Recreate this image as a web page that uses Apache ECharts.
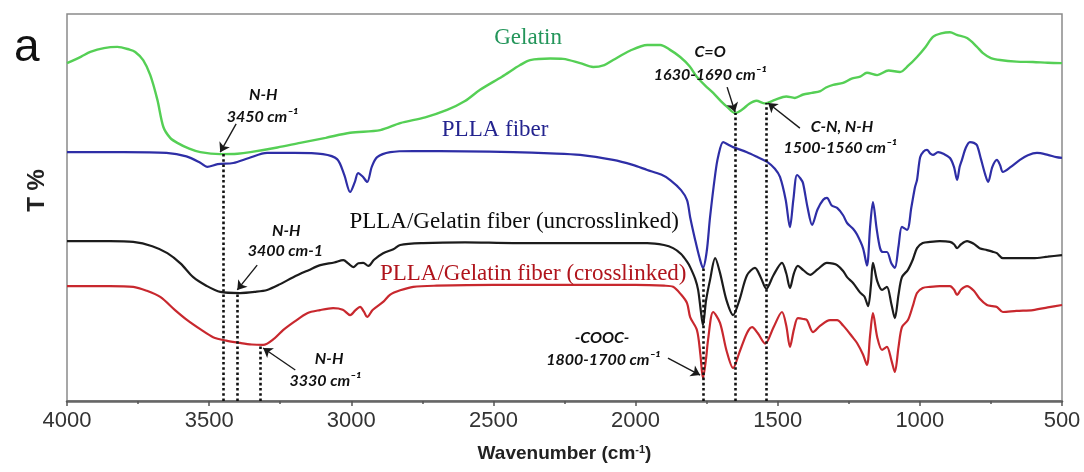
<!DOCTYPE html>
<html><head><meta charset="utf-8">
<script src="https://cdn.jsdelivr.net/npm/echarts/dist/echarts.min.js"></script>
<style>html,body{margin:0;padding:0;background:#fff}#c{width:1084px;height:472px}</style>
</head><body><div id="c"></div><script>
// [wavenumber (cm-1), transmittance (arbitrary %, offset per trace)]
const gelatin = [[4000,87.3],[3950,89.0],[3918,90.2],[3870,91.2],[3823,91.5],[3780,90.8],[3760,90.2],[3732,88.1],[3707,84.2],[3682,77.8],[3661,70.8],[3637,68.0],[3612,66.7],[3570,65.2],[3531,64.3],[3461,63.8],[3400,63.9],[3355,64.3],[3260,65.5],[3180,66.7],[3090,68.0],[3004,69.3],[2898,70.0],[2828,71.8],[2740,73.3],[2663,75.2],[2600,77.5],[2547,80.4],[2470,83.8],[2406,86.8],[2371,88.1],[2300,88.5],[2255,88.4],[2195,87.3],[2149,86.3],[2110,86.8],[2079,88.1],[2020,90.5],[1959,92.0],[1913,92.0],[1880,90.8],[1843,88.9],[1810,86.5],[1784,83.7],[1755,81.5],[1727,79.6],[1700,77.5],[1678,76.0],[1650,74.4],[1625,75.3],[1600,76.8],[1575,77.6],[1545,76.9],[1510,77.8],[1470,78.7],[1440,78.3],[1410,79.2],[1380,79.6],[1350,80.1],[1330,81.0],[1305,81.7],[1270,82.2],[1240,83.3],[1210,83.8],[1186,84.8],[1150,84.2],[1110,85.4],[1070,85.0],[1040,86.7],[1010,88.9],[980,91.5],[954,94.1],[925,95.0],[894,95.3],[870,94.6],[834,93.8],[800,91.6],[778,89.9],[750,88.6],[718,88.1],[660,87.7],[602,87.6],[550,87.4],[500,87.3]];
const pllaFiber = [[4000,64.3],[3800,64.3],[3650,64.1],[3580,63.2],[3530,61.5],[3507,60.5],[3470,61.2],[3415,61.5],[3360,62.8],[3296,64.1],[3200,64.1],[3100,63.8],[3050,62.5],[3025,58.5],[3004,54.0],[2988,56.5],[2976,58.9],[2960,58.0],[2944,56.6],[2928,60.5],[2909,63.0],[2863,64.3],[2782,64.6],[2600,64.5],[2431,64.3],[2300,64.0],[2195,63.6],[2079,62.3],[2010,61.0],[1959,59.7],[1910,58.5],[1878,57.1],[1840,54.5],[1819,51.9],[1808,47.5],[1790,41.5],[1775,37.0],[1763,34.4],[1750,38.5],[1738,47.5],[1720,58.5],[1710,63.0],[1692,66.9],[1675,66.3],[1657,65.6],[1608,64.3],[1570,63.0],[1537,61.8],[1510,60.0],[1492,57.9],[1472,52.0],[1457,44.9],[1445,52.0],[1432,58.4],[1420,57.5],[1411,56.3],[1395,50.0],[1379,45.5],[1360,49.5],[1340,52.0],[1327,52.5],[1310,50.5],[1291,49.9],[1270,48.0],[1256,46.0],[1235,44.5],[1221,43.0],[1200,39.5],[1186,35.0],[1175,45.0],[1165,51.4],[1152,44.5],[1140,39.5],[1130,38.5],[1116,38.5],[1100,35.5],[1088,34.4],[1075,40.0],[1063,45.0],[1045,44.2],[1030,50.0],[1017,55.3],[1010,57.1],[999,63.0],[987,64.5],[975,64.9],[964,64.0],[954,63.6],[936,64.3],[915,63.8],[894,62.8],[880,60.5],[869,57.1],[860,60.5],[852,62.3],[838,65.5],[824,66.9],[810,66.7],[799,66.1],[785,62.5],[770,58.5],[760,56.6],[745,60.5],[729,62.3],[718,61.0],[708,59.2],[680,60.5],[648,62.3],[620,63.5],[588,64.1],[550,63.6],[520,63.0],[500,62.8]];
const uncrosslinked = [[4000,41.3],[3850,41.3],[3767,41.1],[3700,40.0],[3647,38.2],[3600,35.5],[3556,32.0],[3510,29.8],[3461,28.2],[3391,27.9],[3340,28.2],[3296,28.7],[3250,30.2],[3204,32.0],[3150,33.8],[3109,35.1],[3060,35.8],[3028,36.4],[3010,35.5],[2993,34.6],[2975,35.6],[2958,35.7],[2940,34.9],[2920,36.5],[2888,38.2],[2852,39.2],[2828,40.3],[2747,40.8],[2600,41.0],[2431,40.8],[2200,40.8],[1959,40.8],[1900,40.3],[1868,39.5],[1840,38.0],[1819,36.0],[1808,34.6],[1790,31.5],[1780,28.7],[1770,23.0],[1763,19.6],[1752,26.0],[1738,31.3],[1720,36.9],[1703,33.1],[1680,26.0],[1657,22.2],[1635,26.0],[1608,32.5],[1580,34.4],[1560,32.0],[1540,29.0],[1515,32.5],[1485,35.7],[1470,33.0],[1457,29.2],[1443,33.0],[1429,34.9],[1410,33.8],[1386,32.6],[1360,34.0],[1327,35.7],[1305,35.5],[1291,35.1],[1270,33.6],[1256,32.0],[1235,30.5],[1210,28.0],[1195,27.0],[1182,24.5],[1172,30.0],[1165,35.7],[1150,31.0],[1133,28.7],[1116,29.5],[1100,25.0],[1088,21.4],[1075,27.5],[1063,32.0],[1042,33.9],[1025,36.5],[1010,39.5],[990,40.8],[964,41.1],[930,41.3],[894,41.1],[880,40.5],[869,39.5],[855,40.5],[834,41.3],[810,40.6],[790,39.5],[764,39.0],[745,38.6],[729,38.2],[708,36.9],[660,36.9],[602,36.9],[550,37.3],[500,37.7]];
const crosslinked = [[4000,29.7],[3850,29.7],[3767,29.5],[3720,28.5],[3672,26.9],[3620,23.5],[3577,20.9],[3530,18.5],[3486,16.5],[3440,15.6],[3391,15.0],[3350,14.6],[3310,14.5],[3270,16.2],[3240,18.3],[3200,20.5],[3155,22.7],[3110,23.5],[3064,24.0],[3030,23.6],[3004,22.2],[2985,23.5],[2969,24.3],[2955,23.0],[2944,21.7],[2925,23.5],[2888,25.6],[2863,27.5],[2828,28.6],[2782,29.5],[2700,29.8],[2500,30.0],[2200,30.0],[2000,30.0],[1900,29.8],[1868,29.5],[1840,27.5],[1819,25.3],[1808,21.7],[1784,18.3],[1772,12.0],[1763,5.9],[1752,11.0],[1745,15.8],[1727,23.0],[1703,20.2],[1680,13.0],[1657,8.5],[1635,12.5],[1608,17.6],[1590,19.1],[1570,17.5],[1544,14.8],[1515,19.0],[1485,23.0],[1470,19.5],[1457,14.0],[1443,18.5],[1429,21.4],[1410,21.2],[1397,20.9],[1376,17.8],[1350,19.5],[1316,20.9],[1291,20.9],[1270,19.5],[1256,18.3],[1240,16.8],[1221,15.0],[1200,12.0],[1186,9.3],[1175,17.0],[1165,22.7],[1150,16.5],[1133,13.2],[1116,14.0],[1100,10.5],[1088,7.5],[1075,14.0],[1063,19.1],[1042,20.9],[1025,24.5],[1010,27.9],[990,29.2],[964,29.5],[930,29.7],[894,29.7],[880,28.8],[869,27.4],[855,28.8],[834,29.7],[810,28.5],[790,26.5],[764,24.8],[745,24.5],[729,24.3],[708,23.0],[660,23.3],[602,23.5],[550,24.2],[500,24.8]];

// marked band positions: [wavenumber, top of dotted line (value on trace)]
const bandLines = [[3450,63.8],[3400,28.0],[3320,14.5],[1763,34.4],[1650,74.4],[1540,77.0]];
// arrows: [fromWn, fromT, toWn, toT]
const arrows = [[3405,71.6,3461,64.3],[1678,81.1,1650,74.7],[1422,70.5,1534,77.0],[3331,35.1,3401,28.7],[3197,8.0,3310,13.7],[1886,11.1,1773,6.7]];
// annotation texts: [text, wn, T]
const notes = [
  ['N-H',3310,79.1],['3450 cm\u207B\u00B9',3313,73.4],
  ['C=O',1738,90.2],['1630-1690 cm\u207B\u00B9',1738,84.2],
  ['C-N, N-H',1274,70.8],['1500-1560 cm\u207B\u00B9',1281,65.4],
  ['N-H',3229,43.9],['3400 cm-1',3232,38.8],
  ['N-H',3078,10.9],['3330 cm\u207B\u00B9',3092,5.2],
  ['-COOC-',2118,16.3],['1800-1700 cm\u207B\u00B9',2114,10.6]
];
// trace names: [text, wn, T, color]
const traceNames = [
  ['Gelatin',2378,93.8,'#23955a'],
  ['PLLA fiber',2494,70.0,'#24248f'],
  ['PLLA/Gelatin fiber (uncrosslinked)',2427,46.3,'#0d0d0d'],
  ['PLLA/Gelatin fiber (crosslinked)',2360,32.8,'#b0141c']
];

const chart = echarts.init(document.getElementById('c'), null, {renderer:'canvas'});
function trace(name, data, color, w){
  return {name, type:'line', data, showSymbol:false, smooth:0.3, silent:true,
    lineStyle:{color, width:w}, z:3};
}
const plainLabel = {textBorderWidth:0, textShadowBlur:0, opacity:1};
chart.setOption({
  animation:false,
  title:{text:'a', left:9, top:20, textStyle:{fontFamily:'Liberation Sans', fontSize:46, fontWeight:'normal', color:'#111'}},
  grid:{left:67, right:22, top:14, bottom:71, show:true, borderColor:'#8a8a8a', borderWidth:1.5},
  xAxis:{type:'value', inverse:true, min:500, max:4000, interval:500,
    name:'Wavenumber (cm{sup|-1})', nameLocation:'middle', nameGap:43,
    nameTextStyle:{fontFamily:'Liberation Sans', fontSize:19, fontWeight:'bold', color:'#222',
      rich:{sup:{fontSize:11, fontWeight:'bold', verticalAlign:'top', padding:[0,0,8,0], fontFamily:'Liberation Sans', color:'#222'}}},
    axisLine:{show:true, onZero:false, lineStyle:{color:'#666', width:2.5}},
    axisTick:{show:true, inside:false, length:5, lineStyle:{color:'#555', width:1.5}},
    minorTick:{show:true, splitNumber:2, length:3, lineStyle:{color:'#555', width:1.5}},
    splitLine:{show:false},
    axisLabel:{margin:9, fontFamily:'Liberation Sans', fontSize:22, color:'#333', formatter:v=>String(v)}
  },
  yAxis:{type:'value', min:0, max:100, name:'T %', nameLocation:'middle', nameGap:18, nameRotate:90,
    nameTextStyle:{fontFamily:'Liberation Sans', fontSize:24, fontWeight:'bold', color:'#222', padding:[0,0,0,34]},
    axisLine:{show:false}, axisTick:{show:false}, axisLabel:{show:false}, splitLine:{show:false}},
  series:[
    trace('Gelatin', gelatin, '#55cf55', 2.4),
    trace('PLLA fiber', pllaFiber, '#2e2ea6', 2.2),
    trace('PLLA/Gelatin fiber (uncrosslinked)', uncrosslinked, '#1c1c1c', 2.2),
    trace('PLLA/Gelatin fiber (crosslinked)', crosslinked, '#c8282e', 2.2),
    {name:'bands', type:'line', data:[], silent:true, z:4,
      markLine:{silent:true, symbol:['none','none'], label:{show:false}, animation:false,
        lineStyle:{type:'dotted', width:2.6, color:'#111'},
        data: bandLines.map(b=>[{coord:[b[0],0]},{coord:[b[0],b[1]]}])}},
    {name:'arrows', type:'line', data:[], silent:true, z:5,
      markLine:{silent:true, symbol:['none','arrow'], symbolSize:9, label:{show:false}, animation:false,
        lineStyle:{type:'solid', width:1.4, color:'#1a1a1a'},
        data: arrows.map(a=>[{coord:[a[0],a[1]]},{coord:[a[2],a[3]]}])}},
    {name:'notes', type:'scatter', silent:true, symbolSize:1, itemStyle:{color:'rgba(0,0,0,0)'}, z:6,
      label:Object.assign({show:true, position:'inside', formatter:'{b}', fontFamily:'Lato', fontStyle:'italic', fontWeight:'bold', fontSize:16, color:'#111'}, plainLabel),
      data: notes.map(n=>({name:n[0], value:[n[1],n[2]]}))},
    {name:'traceNames', type:'scatter', silent:true, symbolSize:1, itemStyle:{color:'rgba(0,0,0,0)'}, z:6,
      label:Object.assign({show:true, position:'inside', formatter:'{b}', fontFamily:'Liberation Serif', fontSize:23}, plainLabel),
      data: traceNames.map(n=>({name:n[0], value:[n[1],n[2]], label:{color:n[3]}}))}
  ]
});
</script></body></html>
